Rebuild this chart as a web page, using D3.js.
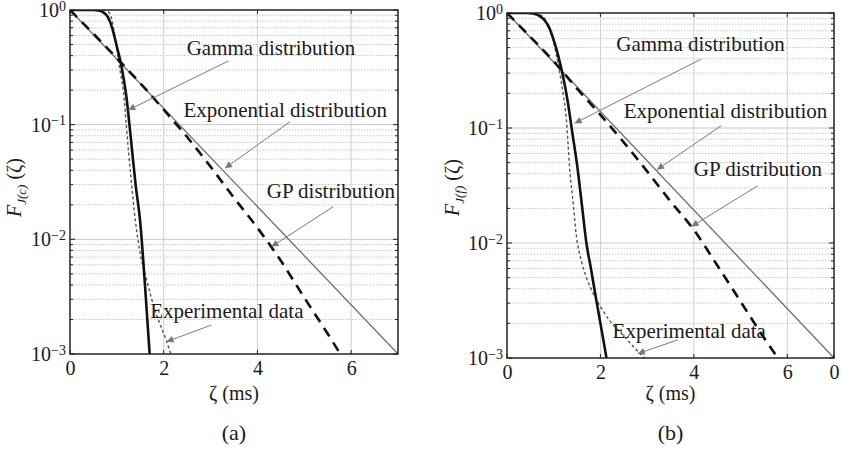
<!DOCTYPE html>
<html><head><meta charset="utf-8">
<script src="https://cdn.jsdelivr.net/npm/d3@7"></script>
<style>
body{margin:0;background:#fff}
svg{display:block;font-family:"Liberation Serif","DejaVu Serif",serif}
svg text{font-family:"Liberation Serif","DejaVu Serif",serif;fill:#1a1a1a}
</style>
</head><body>
<svg id="c" width="842" height="449"></svg>
<script>
// ---------- data ----------
const xDomain=[0,7];
const yDomain=[0.001,1];
const xTickValsA=[0,2,4,6];
const xTickLabelsA=["0","2","4","6"];
const xTickValsB=[0,2,4,6,7];
const xTickLabelsB=["0","2","4","6","0"];
const yTickVals=[1,0.1,0.01,0.001];
const yTickExps=["0","\u22121","\u22122","\u22123"];
const gridX=[2,4,6];

// panel (a)
const expoA_x=[0,7];
const expoA_y=[1,0.001];
const gpA_x=[0,0.5,1,1.5,2,2.5,3,3.5,4,4.5,5,5.5,5.77];
const gpA_y=[1,0.62,0.38,0.23,0.135,0.078,0.043,0.023,0.0126,0.0065,0.0031,0.0015,0.001];
const gammaA_x=[0,0.5,0.6,0.7,0.8,0.9,1.0,1.1,1.2,1.3,1.4,1.5,1.6,1.7];
const gammaA_y=[1,0.999,0.99,0.96,0.88,0.7,0.48,0.32,0.18,0.075,0.03,0.014,0.004,0.001];
const dataA_x=[0,0.7,0.8,0.9,1.0,1.05,1.1,1.15,1.2,1.3,1.4,1.5,1.65,1.8,1.95,2.06,2.15];
const dataA_y=[1,1,0.98,0.8,0.45,0.33,0.25,0.18,0.1,0.035,0.014,0.0075,0.0042,0.0025,0.0017,0.0013,0.001];

// panel (b)
const expoB_x=[0,7];
const expoB_y=[1,0.001];
const gpB_x=[0,0.5,1,1.5,2,2.5,3,3.5,4,4.5,5,5.5,5.8];
const gpB_y=[1,0.62,0.38,0.22,0.13,0.075,0.042,0.023,0.013,0.0064,0.0031,0.0015,0.001];
const gammaB_x=[0,0.4,0.5,0.6,0.7,0.8,0.9,1.0,1.1,1.2,1.3,1.4,1.5,1.6,1.7,1.8,1.9,2.0,2.13];
const gammaB_y=[1,0.999,0.995,0.98,0.94,0.87,0.75,0.58,0.42,0.28,0.17,0.09,0.048,0.022,0.01,0.0059,0.0034,0.002,0.001];
const dataB_x=[0,0.6,0.7,0.8,0.9,1.0,1.1,1.2,1.27,1.31,1.35,1.4,1.48,1.6,1.7,1.85,2.05,2.2,2.41,2.6,2.84,2.95];
const dataB_y=[1,1,0.97,0.9,0.75,0.55,0.35,0.2,0.12,0.07,0.04,0.026,0.012,0.0068,0.005,0.0036,0.0026,0.0021,0.0017,0.0014,0.0011,0.001];

// annotations (data units): label, text x/y, arrow from, arrow to
const annotLabels=["Gamma distribution","Exponential distribution","GP distribution","Experimental data"];
const annotA=[
  {tx:2.49,ty:0.405,fx:3.38,fy:0.359,ex:1.244,ey:0.134},
  {tx:2.42,ty:0.117,fx:4.695,fy:0.106,ex:3.308,ey:0.0417},
  {tx:4.20,ty:0.0228,fx:5.62,fy:0.0193,ex:4.30,ey:0.00863},
  {tx:1.71,ty:0.00205,fx:3.02,fy:0.00179,ex:2.06,ey:0.00128}
];
const annotB=[
  {tx:2.34,ty:0.464,fx:4.16,fy:0.398,ex:1.45,ey:0.110},
  {tx:2.50,ty:0.122,fx:4.59,fy:0.105,ex:3.21,ey:0.0434},
  {tx:4.00,ty:0.0379,fx:5.37,fy:0.0315,ex:3.95,ey:0.0139},
  {tx:2.26,ty:0.00149,fx:3.66,fy:0.00144,ex:2.80,ey:0.00109}
];

// ---------- drawing ----------
const FONT='"Liberation Serif","DejaVu Serif",serif';
const svg=d3.select("#c");
const defs=svg.append("defs");
defs.append("marker").attr("id","arr").attr("viewBox","0 0 10 10")
  .attr("refX",10).attr("refY",5).attr("markerWidth",10).attr("markerHeight",7)
  .attr("markerUnits","userSpaceOnUse").attr("orient","auto")
  .append("path").attr("d","M0,0L10,5L0,10Z").attr("fill","#7a7a7a");

function zip(xs,ys){return xs.map((v,i)=>[v,ys[i]]);}

function drawPanel(p){
  const g=svg.append("g");
  const x=d3.scaleLinear().domain(xDomain).range([p.l,p.r]);
  const y=d3.scaleLog().domain(yDomain).range([p.b,p.t]);
  const cid="clip"+p.id;
  defs.append("clipPath").attr("id",cid).append("rect")
    .attr("x",p.l).attr("y",p.t).attr("width",p.r-p.l).attr("height",p.b-p.t);

  const minors=[];
  [0.001,0.01,0.1].forEach(d=>{for(let k=2;k<=9;k++)minors.push(d*k);});
  g.append("g").selectAll("line").data(minors).join("line")
    .attr("x1",p.l).attr("x2",p.r).attr("y1",d=>y(d)).attr("y2",d=>y(d))
    .attr("stroke","#b5b5b5").attr("stroke-width",0.8).attr("stroke-dasharray","1.5,1.5");
  g.append("g").selectAll("line").data([0.1,0.01]).join("line")
    .attr("x1",p.l).attr("x2",p.r).attr("y1",d=>y(d)).attr("y2",d=>y(d))
    .attr("stroke","#c8c8c8").attr("stroke-width",1);
  g.append("g").selectAll("line").data(gridX).join("line")
    .attr("y1",p.t).attr("y2",p.b).attr("x1",d=>x(d)).attr("x2",d=>x(d))
    .attr("stroke","#cfcfcf").attr("stroke-width",1);

  const line=d3.line().x(d=>x(d[0])).y(d=>y(d[1])).curve(d3.curveMonotoneX);
  const cg=g.append("g").attr("clip-path",`url(#${cid})`);
  cg.append("path").attr("d",line(zip(p.expo[0],p.expo[1]))).attr("fill","none")
    .attr("stroke","#6e6e6e").attr("stroke-width",1.3);
  cg.append("path").attr("d",line(zip(p.data[0],p.data[1]))).attr("fill","none")
    .attr("stroke","#555").attr("stroke-width",1.4).attr("stroke-dasharray","3,2.5");
  cg.append("path").attr("d",line(zip(p.gp[0],p.gp[1]))).attr("fill","none")
    .attr("stroke","#111").attr("stroke-width",2.6).attr("stroke-dasharray","10,7");
  cg.append("path").attr("d",line(zip(p.gamma[0],p.gamma[1]))).attr("fill","none")
    .attr("stroke","#111").attr("stroke-width",2.6);

  g.append("rect").attr("x",p.l).attr("y",p.t).attr("width",p.r-p.l).attr("height",p.b-p.t)
    .attr("fill","none").attr("stroke","#222").attr("stroke-width",1.5);

  const tk=g.append("g").attr("stroke","#222").attr("stroke-width",1);
  p.xt.forEach(v=>{
    tk.append("line").attr("x1",x(v)).attr("x2",x(v)).attr("y1",p.b).attr("y2",p.b-4);
    tk.append("line").attr("x1",x(v)).attr("x2",x(v)).attr("y1",p.t).attr("y2",p.t+4);
  });
  yTickVals.concat(minors).forEach(v=>{
    const L=yTickVals.includes(v)?5:3;
    tk.append("line").attr("x1",p.l).attr("x2",p.l+L).attr("y1",y(v)).attr("y2",y(v));
    tk.append("line").attr("x1",p.r).attr("x2",p.r-L).attr("y1",y(v)).attr("y2",y(v));
  });

  const ax=g.append("g").attr("transform",`translate(0,${p.b})`)
    .call(d3.axisBottom(x).tickValues(p.xt).tickFormat((d,i)=>p.xl[i]).tickSize(0).tickPadding(7));
  ax.attr("font-family",FONT);
  ax.select(".domain").remove();
  ax.selectAll("text").attr("font-size",20).attr("fill","#1a1a1a");

  const ay=g.append("g").attr("transform",`translate(${p.l},0)`)
    .call(d3.axisLeft(y).tickValues(yTickVals).tickFormat(()=> "").tickSize(0).tickPadding(4));
  ay.attr("font-family",FONT);
  ay.select(".domain").remove();
  ay.selectAll("text").each(function(d,i){
    const t=d3.select(this).attr("font-size",20).attr("fill","#1a1a1a");
    t.text(null);
    t.append("tspan").text("10");
    t.append("tspan").attr("dy","-0.45em").attr("font-size",14).text(yTickExps[i]);
  });

  const yl=g.append("text").attr("transform",`translate(${p.ylx},${p.yly}) rotate(-90)`)
    .attr("text-anchor","start").attr("font-size",20);
  yl.append("tspan").attr("font-style","italic").text("F");
  yl.append("tspan").attr("font-style","italic").attr("font-size",13).attr("dy",5).text(p.sub);
  yl.append("tspan").attr("dy",-5).text(" (\u03B6)");

  const cx=(p.l+p.r)/2;
  g.append("text").attr("x",cx).attr("y",400).attr("text-anchor","middle").attr("font-size",20).text("\u03B6 (ms)");
  g.append("text").attr("x",cx).attr("y",440).attr("text-anchor","middle").attr("font-size",22).text(p.cap);

  p.ann.forEach((a,i)=>{
    g.append("line").attr("x1",x(a.fx)).attr("y1",y(a.fy)).attr("x2",x(a.ex)).attr("y2",y(a.ey))
      .attr("stroke","#7a7a7a").attr("stroke-width",1).attr("marker-end","url(#arr)");
    g.append("text").attr("x",x(a.tx)).attr("y",y(a.ty)).attr("font-size",21).text(annotLabels[i]);
  });
}

drawPanel({id:"a",l:70,r:398,t:10,b:354,xt:xTickValsA,xl:xTickLabelsA,
  expo:[expoA_x,expoA_y],gp:[gpA_x,gpA_y],gamma:[gammaA_x,gammaA_y],data:[dataA_x,dataA_y],
  ann:annotA,sub:"J(c)",ylx:21,yly:217,cap:"(a)"});
drawPanel({id:"b",l:507,r:834,t:13,b:358,xt:xTickValsB,xl:xTickLabelsB,
  expo:[expoB_x,expoB_y],gp:[gpB_x,gpB_y],gamma:[gammaB_x,gammaB_y],data:[dataB_x,dataB_y],
  ann:annotB,sub:"J(f)",ylx:459,yly:216,cap:"(b)"});
</script>
</body></html>
